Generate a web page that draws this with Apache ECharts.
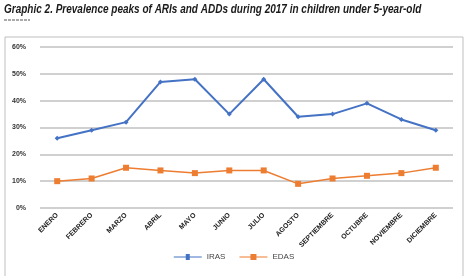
<!DOCTYPE html>
<html>
<head>
<meta charset="utf-8">
<script src="https://cdn.jsdelivr.net/npm/echarts@6/dist/echarts.min.js"></script>
<style>
  html, body { margin: 0; padding: 0; background: #fff; }
  #chart { width: 468px; height: 276px; }
</style>
</head>
<body>
<div id="chart"></div>
<script>
const months = ['ENERO', 'FEBRERO', 'MARZO', 'ABRIL', 'MAYO', 'JUNIO', 'JULIO',
  'AGOSTO', 'SEPTIEMBRE', 'OCTUBRE', 'NOVIEMBRE', 'DICIEMBRE']
const iras = [26, 29, 32, 47, 48, 35, 48, 34, 35, 39, 33, 29]
const edas = [10, 11, 15, 14, 13, 14, 14, 9, 11, 12, 13, 15]
const yTicks = [0, 10, 20, 30, 40, 50, 60]

const chart = echarts.init(document.getElementById('chart'))

chart.setOption({
  animation: false,
  textStyle: { fontFamily: 'Liberation Sans, sans-serif' },
  graphic: [
    // condensed title, squeezed horizontally
    { type: 'text', x: 4, y: 3, scaleX: 0.8,
      style: {
        text: 'Graphic 2. Prevalence peaks of ARIs and ADDs during 2017 in children under 5-year-old',
        font: 'italic bold 12.5px Liberation Sans, sans-serif', fill: '#1a1a1a'
      } },
    { type: 'line', shape: { x1: 4, y1: 20, x2: 30, y2: 20 },
      style: { stroke: '#555', lineWidth: 1, lineDash: [3, 1] } },
    { type: 'rect', shape: { x: 5, y: 37, width: 458, height: 245 },
      style: { fill: 'none', stroke: '#bfbfbf', lineWidth: 1 } }
  ],
  legend: {
    bottom: 10,
    left: 'center',
    itemWidth: 28,
    itemHeight: 6,
    itemGap: 14,
    textStyle: { fontSize: 8, color: '#444' },
    data: [
      { name: 'IRAS', icon: 'path://M0,2.5L28,2.5L28,3.5L0,3.5Z M12,0L16,0L16,6L12,6Z' },
      { name: 'EDAS', icon: 'path://M0,2.5L28,2.5L28,3.5L0,3.5Z M11,0L17,0L17,6L11,6Z' }
    ]
  },
  grid: { left: 40, right: 15, top: 47, bottom: 68 },
  xAxis: {
    type: 'category',
    data: months,
    boundaryGap: true,
    axisLine: { show: false },
    axisTick: { show: false },
    axisLabel: { rotate: 45, fontSize: 7, fontWeight: 'bold', color: '#222', interval: 0, margin: 6 }
  },
  yAxis: {
    type: 'value',
    min: yTicks[0],
    max: yTicks[yTicks.length - 1],
    interval: 10,
    axisLine: { show: false },
    axisTick: { show: false },
    axisLabel: { formatter: '{value}%', fontSize: 7, fontWeight: 'bold', color: '#333', margin: 14 },
    splitLine: { lineStyle: { color: '#d0d0d0', width: 2 } }
  },
  series: [
    {
      name: 'IRAS',
      type: 'line',
      data: iras,
      symbol: 'diamond',
      symbolSize: 5,
      itemStyle: { color: '#4472C4' },
      lineStyle: { width: 2, color: '#4472C4' }
    },
    {
      name: 'EDAS',
      type: 'line',
      data: edas,
      symbol: 'rect',
      symbolSize: 6,
      itemStyle: { color: '#ED7D31' },
      lineStyle: { width: 1.5, color: '#ED7D31' }
    }
  ]
})
</script>
</body>
</html>
